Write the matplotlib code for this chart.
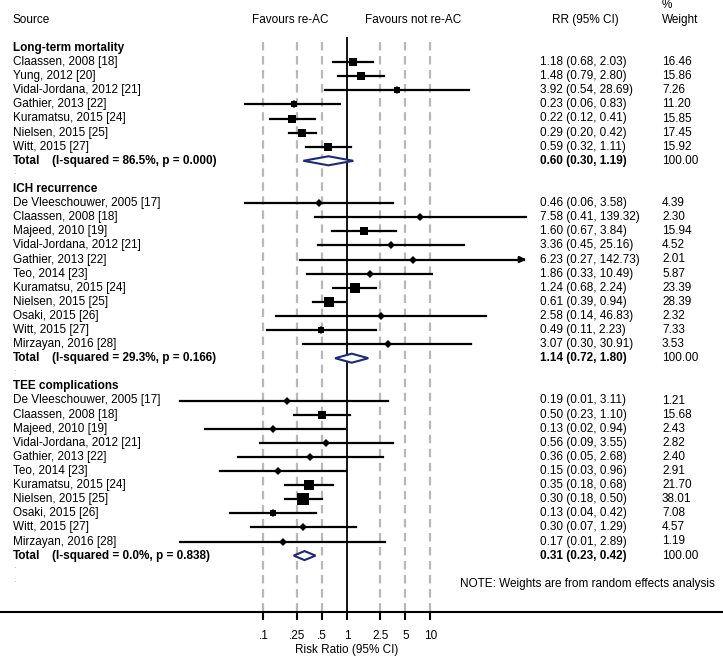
import matplotlib
matplotlib.use("Agg")
import matplotlib.pyplot as plt
import numpy as np

plt.rcParams["font.family"] = ["Liberation Sans", "DejaVu Sans"]
plt.rcParams["lines.scale_dashes"] = False

# 数据
groups = ["Long-term mortality", "ICH recurrence", "TEE complications"]

ltm_names = ["Claassen, 2008 [18]", "Yung, 2012 [20]", "Vidal-Jordana, 2012 [21]",
             "Gathier, 2013 [22]", "Kuramatsu, 2015 [24]", "Nielsen, 2015 [25]",
             "Witt, 2015 [27]"]
ltm_rr = [1.18, 1.48, 3.92, 0.23, 0.22, 0.29, 0.59]
ltm_lo = [0.68, 0.79, 0.54, 0.06, 0.12, 0.20, 0.32]
ltm_hi = [2.03, 2.80, 28.69, 0.83, 0.41, 0.42, 1.11]
ltm_w = [16.46, 15.86, 7.26, 11.20, 15.85, 17.45, 15.92]
ltm_total = (0.60, 0.30, 1.19)
ltm_het = "(I-squared = 86.5%, p = 0.000)"

ich_names = ["De Vleeschouwer, 2005 [17]", "Claassen, 2008 [18]", "Majeed, 2010 [19]",
             "Vidal-Jordana, 2012 [21]", "Gathier, 2013 [22]", "Teo, 2014 [23]",
             "Kuramatsu, 2015 [24]", "Nielsen, 2015 [25]", "Osaki, 2015 [26]",
             "Witt, 2015 [27]", "Mirzayan, 2016 [28]"]
ich_rr = [0.46, 7.58, 1.60, 3.36, 6.23, 1.86, 1.24, 0.61, 2.58, 0.49, 3.07]
ich_lo = [0.06, 0.41, 0.67, 0.45, 0.27, 0.33, 0.68, 0.39, 0.14, 0.11, 0.30]
ich_hi = [3.58, 139.32, 3.84, 25.16, 142.73, 10.49, 2.24, 0.94, 46.83, 2.23, 30.91]
ich_w = [4.39, 2.30, 15.94, 4.52, 2.01, 5.87, 23.39, 28.39, 2.32, 7.33, 3.53]
ich_total = (1.14, 0.72, 1.80)
ich_het = "(I-squared = 29.3%, p = 0.166)"

tee_names = ich_names
tee_rr = [0.19, 0.50, 0.13, 0.56, 0.36, 0.15, 0.35, 0.30, 0.13, 0.30, 0.17]
tee_lo = [0.01, 0.23, 0.02, 0.09, 0.05, 0.03, 0.18, 0.18, 0.04, 0.07, 0.01]
tee_hi = [3.11, 1.10, 0.94, 3.55, 2.68, 0.96, 0.68, 0.50, 0.42, 1.29, 2.89]
tee_w = [1.21, 15.68, 2.43, 2.82, 2.40, 2.91, 21.70, 38.01, 7.08, 4.57, 1.19]
tee_total = (0.31, 0.23, 0.42)
tee_het = "(I-squared = 0.0%, p = 0.838)"

tick_vals = [0.1, 0.25, 0.5, 1, 2.5, 5, 10]
tick_labels = [".1", ".25", ".5", "1", "2.5", "5", "10"]

sections = [
    (groups[0], ltm_names, ltm_rr, ltm_lo, ltm_hi, ltm_w, ltm_total, ltm_het),
    (groups[1], ich_names, ich_rr, ich_lo, ich_hi, ich_w, ich_total, ich_het),
    (groups[2], tee_names, tee_rr, tee_lo, tee_hi, tee_w, tee_total, tee_het),
]

clip_hi = 140
W, H = 723, 661
fs = 8.5
navy = "#1b2a7b"

fig = plt.figure(figsize=(W / 100, H / 100), dpi=100)
# axes spans whole width; row i sits at pixel 48 + 14.1*i
axis_px = 611.7
ax = fig.add_axes([0, 1 - axis_px / H, 1, axis_px / H])
ax.set_xscale("log")
ax.set_xlim(10 ** (-347 / 83.5), 10 ** ((W - 347) / 83.5))
ax.set_ylim((axis_px - 48) / 14.1, -48 / 14.1)
for s in ["top", "left", "right"]:
    ax.spines[s].set_visible(False)
ax.spines["bottom"].set_linewidth(1.5)
ax.set_yticks([])
ax.set_xticks(tick_vals)
ax.set_xticklabels(tick_labels)
ax.minorticks_off()
ax.tick_params(axis="x", direction="out", length=6, width=1.5, pad=7, labelsize=fs)

tr = ax.get_yaxis_transform()  # x in axes fraction, y in rows
xn = 13 / W
xrr = 540 / W
xw = 662 / W

ybot = ax.get_ylim()[0]
# reference lines
ax.vlines([v for v in tick_vals if v != 1], -0.4, ybot, colors="#b8b8b8",
          linewidth=1.6, linestyles=(0, (6.1, 4.0)), zorder=1)
ax.vlines(1, -0.78, ybot, colors="black", linewidth=1.3, zorder=2)

# headers
ax.text(xn, -2, "Source", transform=tr, fontsize=fs, va="center")
ax.text(290 / W, -2, "Favours re-AC", transform=tr, fontsize=fs, va="center", ha="center")
ax.text(413 / W, -2, "Favours not re-AC", transform=tr, fontsize=fs, va="center", ha="center")
ax.text(585 / W, -2, "RR (95% CI)", transform=tr, fontsize=fs, va="center", ha="center")
ax.text(xw, -3.05, "%", transform=tr, fontsize=fs, va="center")
ax.text(xw, -2, "Weight", transform=tr, fontsize=fs, va="center")

row = 0
for title, names, rr, lo, hi, w, tot, het in sections:
    ax.text(xn, row, title, transform=tr, fontsize=fs, va="center", fontweight="bold")
    row += 1
    for i in range(len(names)):
        ax.text(xn, row, names[i], transform=tr, fontsize=fs, va="center")
        ax.text(xrr, row, "%.2f (%.2f, %.2f)" % (rr[i], lo[i], hi[i]),
                transform=tr, fontsize=fs, va="center")
        ax.text(xw, row, "%.2f" % w[i], transform=tr, fontsize=fs, va="center")
        if hi[i] > clip_hi:
            ax.plot([lo[i], clip_hi * 0.93], [row, row], color="black", lw=1.6, zorder=3)
            ax.annotate("", xy=(clip_hi, row), xytext=(clip_hi * 0.9, row),
                        arrowprops=dict(arrowstyle="-|>", color="black", lw=1.6,
                                        mutation_scale=9, shrinkA=0, shrinkB=0), zorder=3)
        else:
            ax.plot([lo[i], hi[i]], [row, row], color="black", lw=1.6, zorder=3)
        ax.plot(rr[i], row, marker="s", ms=1.45 * np.sqrt(w[i]), color="black",
                mew=0, zorder=4)
        ax.plot(rr[i], row, marker="D", ms=4.3, color="black", mew=0, zorder=5)
        row += 1
    # pooled estimate
    ax.text(xn, row, "Total", transform=tr, fontsize=fs, va="center", fontweight="bold")
    ax.text(52 / W, row, het, transform=tr, fontsize=fs, va="center", fontweight="bold")
    ax.text(xrr, row, "%.2f (%.2f, %.2f)" % tot, transform=tr, fontsize=fs,
            va="center", fontweight="bold")
    ax.text(xw, row, "100.00", transform=tr, fontsize=fs, va="center")
    h = 0.32
    ax.fill([tot[1], tot[0], tot[2], tot[0]], [row, row - h, row, row + h],
            facecolor="white", edgecolor=navy, lw=1.5, zorder=4)
    row += 1
    ax.text(xn, row - 0.2, ".", transform=tr, fontsize=6, color="#888888", va="center")
    row += 1

ax.text(xn, row - 0.2, ".", transform=tr, fontsize=6, color="#888888", va="center")
ax.text(460 / W, row, "NOTE: Weights are from random effects analysis",
        transform=tr, fontsize=fs, va="center")

fig.text(347 / W, 1 - 650 / H, "Risk Ratio (95% CI)", fontsize=fs, ha="center", va="center")

fig.savefig("out.png", dpi=100, facecolor="white")
